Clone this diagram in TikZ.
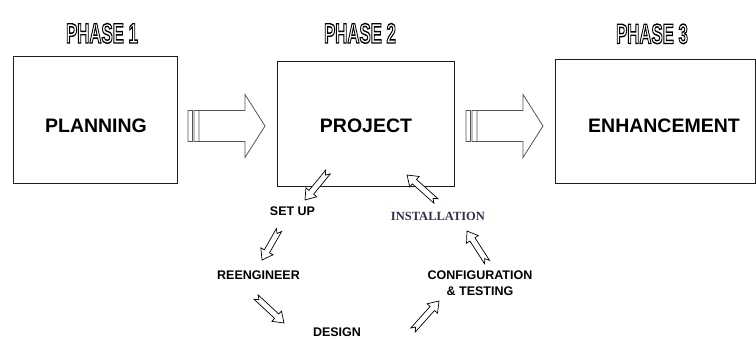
\documentclass[tikz,border=0pt]{standalone}
\usepackage{fontspec}
\setmainfont{Liberation Sans}
\newfontfamily\serifbold{Liberation Serif}[BoldFont={* Bold}]
\usepackage{graphicx}
\usetikzlibrary{calc}

\definecolor{arrowgray}{HTML}{555555}
\definecolor{boxline}{HTML}{1E1E1E}
\definecolor{installcol}{HTML}{2E3350}

\tikzset{
  box/.style={draw=boxline, line width=0.9pt, fill=white, inner sep=0pt},
  phase/.style={anchor=base, inner sep=0pt,
    font=\fontsize{28}{30}\selectfont\bfseries},
  mainlabel/.style={anchor=base, inner sep=0pt,
    font=\fontsize{19.5}{22}\selectfont\bfseries},
  steplabel/.style={anchor=base, inner sep=0pt,
    font=\fontsize{12.5}{16}\selectfont\bfseries},
  % wide hollow arrow with two bars at its tail
  bigarrow/.style={draw=arrowgray, line width=0.8pt, fill=white, line join=miter,
    to path={
      ($(\tikztostart)+(0,-15.5)$) rectangle ($(\tikztostart)+(4.5,15.5)$)
      ($(\tikztostart)+(6,-15.5)$) rectangle ($(\tikztostart)+(11,15.5)$)
      ($(\tikztostart)+(11,-15.5)$) -- ($(\tikztotarget)+(-20,-15.5)$)
      -- ($(\tikztotarget)+(-20,-31.5)$) -- (\tikztotarget)
      -- ($(\tikztotarget)+(-20,31.5)$) -- ($(\tikztotarget)+(-20,15.5)$)
      -- ($(\tikztostart)+(11,15.5)$)}},
  % slim hollow arrow with a notched tail
  notched/.style={draw=black, line width=0.7pt, fill=white, line join=miter,
    to path={
      ($(\tikztostart)!3pt!90:(\tikztotarget)$)
      -- ($(\tikztostart)!4pt!(\tikztotarget)$)
      -- ($(\tikztostart)!3pt!-90:(\tikztotarget)$)
      -- ($(\tikztotarget)!10pt!(\tikztostart)!3pt!90:(\tikztostart)$)
      -- ($(\tikztotarget)!10pt!(\tikztostart)!7pt!90:(\tikztostart)$)
      -- (\tikztotarget)
      -- ($(\tikztotarget)!10pt!(\tikztostart)!7pt!-90:(\tikztostart)$)
      -- ($(\tikztotarget)!10pt!(\tikztostart)!3pt!-90:(\tikztostart)$)
      -- cycle}}
}

% hollow (stroked only) lettering for the phase headings
\newcommand{\phasetext}[1]{\scalebox{0.6}[1]{%
  \special{pdf:literal 1 Tr 1.4 w}#1\special{pdf:literal 0 Tr}}}

\begin{document}
\begin{tikzpicture}[x=1pt, y=-1pt]
  \useasboundingbox (0,0) rectangle (756,338);

  % phase headings
  \node[phase] (ph1) at (102,43) {\phasetext{PHASE 1}};
  \node[phase] (ph2) at (360,43) {\phasetext{PHASE 2}};
  \node[phase] (ph3) at (652,43.5) {\phasetext{PHASE 3}};

  % phase boxes
  \node[box, minimum width=164pt, minimum height=127pt] (plan) at (95,119.5) {};
  \node[box, minimum width=177pt, minimum height=125pt] (proj) at (365.5,123.5) {};
  \node[box, minimum width=200pt, minimum height=124pt] (enh) at (655,121) {};

  \node[mainlabel] (planT) at (96,132) {PLANNING};
  \node[mainlabel] (projT) at (366,132) {PROJECT};
  \node[mainlabel] (enhT) at (664,132) {ENHANCEMENT};

  % arrows between the phases
  \coordinate (a1s) at (188,126);
  \coordinate (a1t) at (265,126);
  \coordinate (a2s) at (466,126);
  \coordinate (a2t) at (543,126);
  \draw[bigarrow] (a1s) to (a1t);
  \draw[bigarrow] (a2s) to (a2t);

  % project cycle steps
  \node[steplabel] (setup) at (292.5,215) {SET UP};
  \node[steplabel, font=\fontsize{12.5}{16}\selectfont\serifbold\bfseries, text=installcol]
    (install) at (438,220) {INSTALLATION};
  \node[steplabel] (reeng) at (258.5,279) {REENGINEER};
  \node[steplabel, anchor=center, align=center,
    font=\fontsize{12.5}{16}\selectfont\bfseries] (config) at (480,283)
    {CONFIGURATION\\\& TESTING};
  \node[steplabel] (design) at (337,336.5) {DESIGN};

  % cycle arrows
  \coordinate (c1s) at (328,172);  \coordinate (c1t) at (305,200);
  \coordinate (c2s) at (279,230);  \coordinate (c2t) at (262,260);
  \coordinate (c3s) at (256,297);  \coordinate (c3t) at (284,323);
  \coordinate (c4s) at (413,330);  \coordinate (c4t) at (439,301);
  \coordinate (c5s) at (487,262);  \coordinate (c5t) at (467,231);
  \coordinate (c6s) at (436,201);  \coordinate (c6t) at (407,175);
  \draw[notched] (c1s) to (c1t);
  \draw[notched] (c2s) to (c2t);
  \draw[notched] (c3s) to (c3t);
  \draw[notched] (c4s) to (c4t);
  \draw[notched] (c5s) to (c5t);
  \draw[notched] (c6s) to (c6t);
\end{tikzpicture}
\end{document}
